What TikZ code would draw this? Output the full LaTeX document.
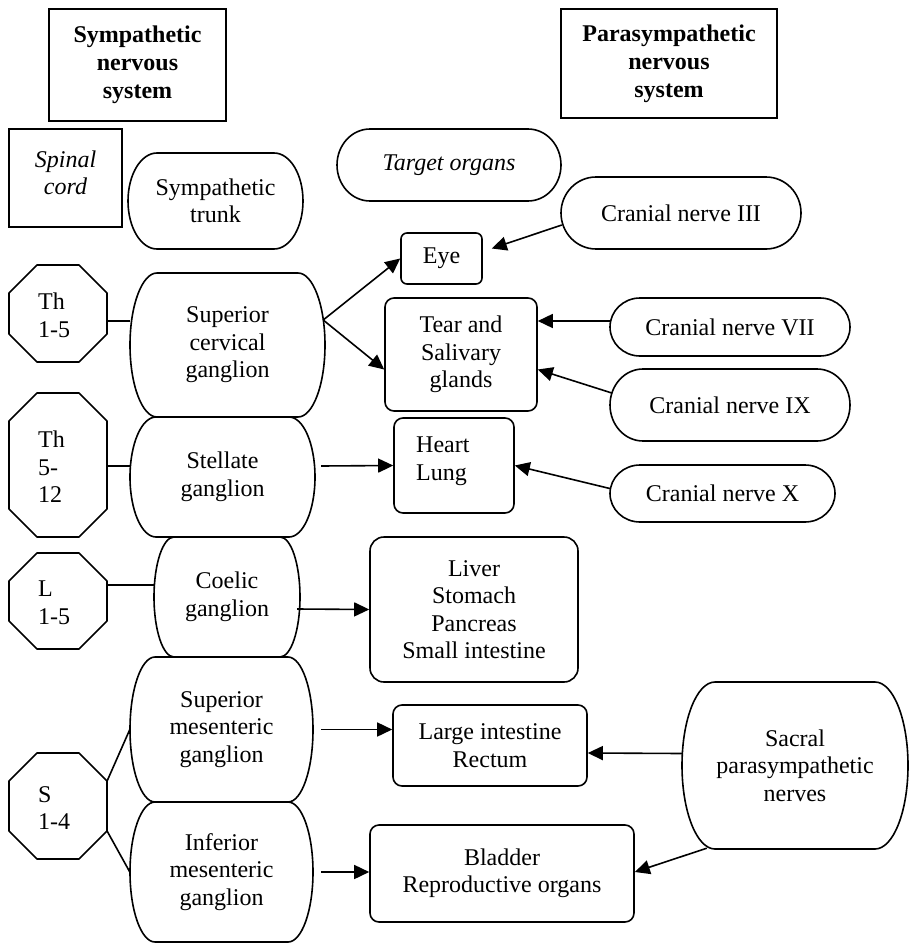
\documentclass[tikz,border=0pt]{standalone}
\usepackage{fontspec}
\setmainfont{Liberation Serif}
\usetikzlibrary{arrows.meta,calc}

\tikzset{
  shp/.style={line width=1.6pt, line join=round},
  lbl/.style={inner sep=0pt, align=center, font=\fontsize{24}{27.5}\selectfont},
  anchorbox/.style={inner sep=0pt, draw=none, rectangle},
  bowtxt/.style={lbl, draw=none, rectangle},
  obox/.style={lbl, draw, line width=1.6pt, rectangle, rounded corners=9pt},
  hbox/.style={draw, line width=1.6pt, rectangle, inner sep=0pt, align=center, font=\fontsize{24}{28}\selectfont\bfseries},
  ln/.style={line width=1.6pt},
  arr/.style={line width=1.6pt, -{Triangle[length=15pt,width=14pt]}},
}

\def\octcut{28}

% bowed rounded shape: name, x1, y1, x2, y2, rx, text
\newcommand\bowshape[7]{%
  \pgfmathsetmacro\bowmid{(#3+#5)/2}%
  \pgfmathsetmacro\bowry{(#5-#3)/2}%
  \pgfmathsetmacro\bowkx{0.5523*#6}%
  \pgfmathsetmacro\bowky{0.5523*\bowry}%
  \draw[shp] ({#2+#6},#3) -- ({#4-#6},#3)
    .. controls ({#4-#6+\bowkx},#3) and (#4,{\bowmid-\bowky}) .. (#4,\bowmid)
    .. controls (#4,{\bowmid+\bowky}) and ({#4-#6+\bowkx},#5) .. ({#4-#6},#5)
    -- ({#2+#6},#5)
    .. controls ({#2+#6-\bowkx},#5) and (#2,{\bowmid+\bowky}) .. (#2,\bowmid)
    .. controls (#2,{\bowmid-\bowky}) and ({#2+#6-\bowkx},#3) .. cycle;
  \node[bowtxt, minimum width={#4-#2}, minimum height={#5-#3}] (#1) at ({(#2+#4)/2},\bowmid) {#7};
}

% octagon: name, x1, y1, x2, y2, text
\newcommand\octbox[6]{%
  \draw[shp] ({#2+\octcut},#3) -- ({#4-\octcut},#3) -- (#4,{#3+\octcut}) -- (#4,{#5-\octcut})
    -- ({#4-\octcut},#5) -- ({#2+\octcut},#5) -- (#2,{#5-\octcut}) -- (#2,{#3+\octcut}) -- cycle;
  \node[anchorbox, minimum width={#4-#2}, minimum height={#5-#3}] (#1) at ({(#2+#4)/2},{(#3+#5)/2}) {};
  \node[lbl, align=left, anchor=west] (#1t) at (38,{(#3+#5)/2+2}) {#6};
}

\begin{document}
\begin{tikzpicture}[x=1pt,y=-1pt]
\useasboundingbox (0,0) rectangle (912,944);

% headers
\node[hbox, minimum width=177, minimum height=112] (symp) at (137.5,65) {Sympathetic\\nervous\\system};
\node[hbox, minimum width=216, minimum height=109] (para) at (669,63.5) {Parasympathetic\\nervous\\system};
\node[draw, line width=1.6pt, rectangle, inner sep=0pt, minimum width=113, minimum height=98] (spinalbox) at (65.5,178) {};
\node[lbl, font=\fontsize{24}{27.5}\selectfont\itshape] (spinal) at (65.5,173) {Spinal\\cord};

% sympathetic chain
\bowshape{trunk}{128}{153}{303}{249}{29}{Sympathetic\\trunk}
\bowshape{supc}{130}{273}{325}{417}{27}{Superior\\cervical\\ganglion}
\bowshape{stell}{130}{417}{315}{537}{26}{Stellate\\ganglion}
\bowshape{coel}{154}{537}{300}{657}{20}{Coelic\\ganglion}
\bowshape{supm}{130}{657}{313}{802}{25}{Superior\\mesenteric\\ganglion}
\bowshape{infm}{130}{802}{313}{942}{25}{Inferior\\mesenteric\\ganglion}

% spinal segments
\octbox{th15}{9}{265}{107}{362}{Th\\1-5}
\octbox{th512}{9}{393}{107}{537}{Th\\5-\\12}
\octbox{l15}{9}{553}{107}{649}{L\\1-5}
\octbox{s14}{9}{753}{107}{859}{S\\1-4}

% target organs
\bowshape{target}{337}{129}{561}{201}{33}{\itshape Target organs}
\node[obox, rounded corners=6pt, minimum width=81, minimum height=51] (eye) at (441.5,258.5) {Eye};
\node[obox, minimum width=152, minimum height=113] (tear) at (461,354.5) {Tear and\\Salivary\\glands};
\node[obox, minimum width=120, minimum height=95] (heart) at (454,465.5) {};
\node[lbl, align=left, anchor=west] (heartt) at (416,461) {Heart\\Lung};
\node[obox, rounded corners=14pt, minimum width=208, minimum height=145] (liver) at (474,609.5) {Liver\\Stomach\\Pancreas\\Small intestine};
\node[obox, minimum width=194, minimum height=81] (large) at (490,745.5) {Large intestine\\Rectum};
\node[obox, minimum width=264, minimum height=97] (bladder) at (502,873.5) {Bladder\\Reproductive organs};

% parasympathetic nerves
\bowshape{cn3}{561}{177}{801}{249}{35}{Cranial nerve III}
\bowshape{cn7}{610}{298}{850}{356}{30}{Cranial nerve VII}
\bowshape{cn9}{610}{369}{850}{441}{33}{Cranial nerve IX}
\bowshape{cn10}{610}{465}{835}{522}{30}{Cranial nerve X}
\bowshape{sacral}{682}{682}{908}{849}{33}{Sacral\\parasympathetic\\nerves}

% spinal connections
\draw[ln] ($(th15.east)+(0,7.5)$) -- ($(supc.west)+(0,-24)$);
\draw[ln] ($(th512.east)+(0,1)$) -- ($(stell.west)+(0,-11)$);
\draw[ln] ($(l15.east)+(0,-16)$) -- ($(coel.west)+(0,-12)$);
\draw[ln] ($(s14.north east)+(0,\octcut)$) -- (supm.west);
\draw[ln] ($(s14.south east)+(0,-\octcut)$) -- (infm.west);

% sympathetic arrows
\draw[arr] ($(supc.east)+(-2,-25)$) -- (eye.west);
\draw[arr] ($(supc.east)+(-2,-25)$) -- ($(tear.west)+(0,15)$);
\draw[arr] ($(stell.east)+(6,-11)$) -- (heart.west);
\draw[arr] ($(coel.east)+(-3,12)$) -- (liver.west);
\draw[arr] ($(supm.east)+(8,0)$) -- ($(large.west)+(0,-16)$);
\draw[arr] ($(infm.east)+(8,0)$) -- ($(bladder.west)+(0,-1.5)$);

% parasympathetic arrows
\draw[arr] ($(cn3.west)+(1,12)$) -- ($(eye.east)+(9,-10)$);
\draw[arr] ($(cn7.west)+(0,-6)$) -- ($(tear.east)+(0,-33.5)$);
\draw[arr] ($(cn9.west)+(2,-12)$) -- ($(tear.east)+(0,15)$);
\draw[arr] ($(cn10.west)+(0,-5)$) -- (heart.east);
\draw[arr] ($(sacral.west)+(0,-12)$) -- ($(large.east)+(0,7.5)$);
\draw[arr] ($(sacral.south west)+(25,-1)$) -- ($(bladder.east)+(0,-1.5)$);
\end{tikzpicture}
\end{document}
